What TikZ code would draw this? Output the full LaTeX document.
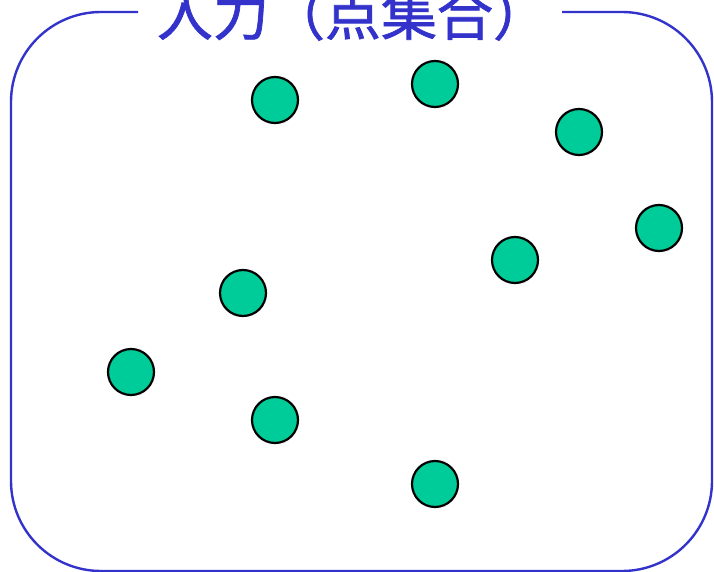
\documentclass[tikz,border=0pt]{standalone}
\usepackage{fontspec}
\newfontfamily\cjk[FakeBold=1.3]{Noto Sans CJK JP}
\definecolor{frameblue}{HTML}{3333CC}
\definecolor{ptgreen}{HTML}{00CC99}
\tikzset{
  pt/.style={circle, draw=black, line width=2.2pt, fill=ptgreen, minimum size=46pt, inner sep=0pt},
  frame/.style={draw=frameblue, line width=2.4pt, rounded corners=90pt},
}
\begin{document}
\begin{tikzpicture}[x=1pt,y=1pt]
\useasboundingbox (0,0) rectangle (714,-572);
\draw[frame] (138,-12) -- (11,-12) -- (11,-571) -- (712,-571) -- (712,-12) -- (562,-12);
\node[text=frameblue, font=\cjk\fontsize{56}{60}\selectfont, inner sep=0pt] (title) at (353,-14) {入力（点集合）};
\node[pt] (p1) at (275,-100) {};
\node[pt] (p2) at (435,-84) {};
\node[pt] (p3) at (579,-132) {};
\node[pt] (p4) at (659,-228) {};
\node[pt] (p5) at (515,-260) {};
\node[pt] (p6) at (243,-293) {};
\node[pt] (p7) at (131,-372) {};
\node[pt] (p8) at (275,-420) {};
\node[pt] (p9) at (435,-484) {};
\end{tikzpicture}
\end{document}
